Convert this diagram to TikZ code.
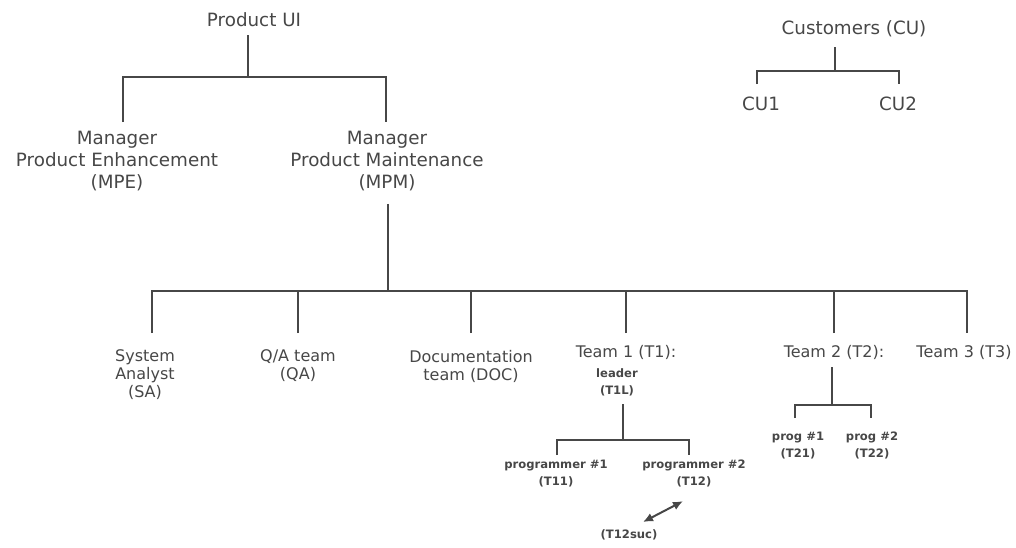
\documentclass[tikz,border=0pt]{standalone}
\usepackage{fontspec}
\setmainfont{DejaVu Sans}
\usetikzlibrary{arrows.meta}
\definecolor{ink}{HTML}{474747}

\begin{document}
\begin{tikzpicture}[x=0.5pt, y=-0.5pt, color=ink, line width=1pt,
	head/.style={anchor=north, inner sep=0pt, align=center, font=\fontsize{9.15}{11}\selectfont},
	unit/.style={anchor=north, inner sep=0pt, align=center, font=\fontsize{8}{9}\selectfont},
	tiny/.style={anchor=north, inner sep=0pt, align=center, font=\bfseries\fontsize{5.8}{8.5}\selectfont}]
	\useasboundingbox (0,0) rectangle (1016,547);

	% managers
	\node[head] (pui) at (254,12) {Product UI};
	\node[head] (mpe) at (117,130) {Manager\\Product Enhancement\\(MPE)};
	\node[head] (mpm) at (387,130) {Manager\\Product Maintenance\\(MPM)};
	\coordinate (pui hub) at (248,77);
	\draw ([shift={(-6,7)}]pui.south) -- (pui hub);
	\draw ([shift={(6,-8)}]mpe.north) |- (pui hub) -| ([shift={(-1,-8)}]mpm.north);

	% customers
	\node[head] (cu) at (854,20) {Customers (CU)};
	\node[head] (cu1) at (761,96) {CU1};
	\node[head] (cu2) at (898,96) {CU2};
	\coordinate (cu hub) at (835,71);
	\draw ([shift={(-19,9)}]cu.south) -- (cu hub);
	\draw ([shift={(-4,-12)}]cu1.north) |- (cu hub) -| ([shift={(1,-12)}]cu2.north);

	% units under MPM
	\node[unit] (sa) at (145,349) {System\\Analyst\\(SA)};
	\node[unit] (qa) at (298,349) {Q/A team\\(QA)};
	\node[unit] (doc) at (471,349) {Documentation\\team (DOC)};
	\node[unit] (t1) at (626,344) {Team 1 (T1):};
	\node[unit] (t2) at (834,344) {Team 2 (T2):};
	\node[unit] (t3) at (964,344) {Team 3 (T3)};
	\coordinate (mpm hub) at (388,291);
	\draw ([shift={(1,12)}]mpm.south) -- (mpm hub);
	\draw ([shift={(7,-16)}]sa.north) |- (mpm hub) -| ([shift={(3,-11)}]t3.north);
	\draw ([shift={(0,-16)}]qa.north) -- (qa.north |- mpm hub);
	\draw ([shift={(0,-16)}]doc.north) -- (doc.north |- mpm hub);
	\draw ([shift={(0,-11)}]t1.north) -- (t1.north |- mpm hub);
	\draw ([shift={(0,-11)}]t2.north) -- (t2.north |- mpm hub);

	% team 1
	\node[tiny] (t1l) at (617,368) {leader\\(T1L)};
	\node[tiny] (t11) at (556,459) {programmer \#1\\(T11)};
	\node[tiny] (t12) at (694,459) {programmer \#2\\(T12)};
	\node[tiny] (t12suc) at (629,529) {(T12suc)};
	\coordinate (t1 hub) at (623,440);
	\draw ([shift={(6,7)}]t1l.south) -- (t1 hub);
	\draw ([shift={(1,-4)}]t11.north) |- (t1 hub) -| ([shift={(-5,-4)}]t12.north);
	\draw[{Latex[length=5pt,width=4.5pt]}-{Latex[length=5pt,width=4.5pt]}] ([shift={(-11,13)}]t12.south) -- ([shift={(14,-7)}]t12suc.north);

	% team 2
	\node[tiny] (t21) at (798,431) {prog \#1\\(T21)};
	\node[tiny] (t22) at (872,431) {prog \#2\\(T22)};
	\coordinate (t2 hub) at (832,405);
	\draw ([shift={(-2,7)}]t2.south) -- (t2 hub);
	\draw ([shift={(-3,-13)}]t21.north) |- (t2 hub) -| ([shift={(-1,-13)}]t22.north);
\end{tikzpicture}
\end{document}
